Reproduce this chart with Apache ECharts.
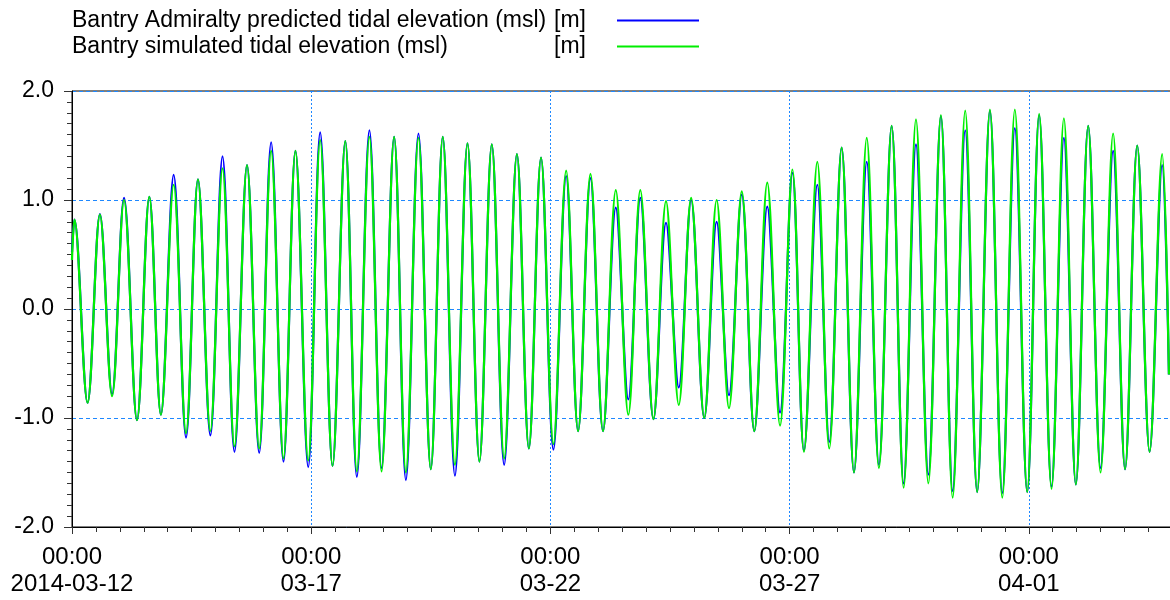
<!DOCTYPE html>
<html>
<head>
<meta charset="utf-8">
<script src="https://cdn.jsdelivr.net/npm/echarts@6/dist/echarts.min.js"></script>
<style>
  html, body { margin: 0; padding: 0; background: #fff; }
  #chart { width: 1170px; height: 600px; }
</style>
</head>
<body>
<div id="chart"></div>
<script>
// Bantry tidal elevation, 2014-03-12 .. 2014-04-03
// Times are hours after 2014-03-12 00:00; values are high / low waters (m, msl).
const startDate = Date.UTC(2014, 2, 12, 0, 0);

const extremeHours = [0, 1.2, 7.8, 14.0, 20.1, 26.1, 32.6, 38.8, 44.6, 51.0, 57.2, 63.2, 69.4, 75.5, 81.5, 87.8,
  93.9, 99.9, 106.1, 112.1, 118.5, 124.5, 130.7, 137.1, 142.9, 149.2, 155.3, 161.6, 167.5, 173.8, 180.0,
  186.0, 192.1, 198.4, 204.4, 210.6, 216.8, 223.2, 229.2, 235.3, 241.5, 247.9, 253.9, 260.1, 266.4,
  272.8, 279.1, 285.1, 291.7, 298.0, 304.4, 310.6, 317.2, 323.4, 329.6, 336.0, 342.3, 348.8, 355.2,
  361.4, 367.2, 373.9, 379.9, 386.1, 392.3, 398.7, 404.8, 411.2, 417.2, 423.4, 429.6, 435.9, 441.8,
  448.1, 454.1, 460.5, 466.7, 473.0, 479.2, 485.2, 491.4, 497.6, 503.6, 509.8, 516.0, 522.3, 528.3,
  534.4, 540.6, 546.9, 550.3];

const predicted = [0.52, 0.82, -0.86, 0.87, -0.78, 1.02, -1.02, 1.03, -0.97, 1.23, -1.18, 1.19, -1.16, 1.40, -1.31,
  1.32, -1.32, 1.53, -1.40, 1.45, -1.45, 1.62, -1.44, 1.54, -1.54, 1.64, -1.46, 1.58, -1.57, 1.61, -1.47,
  1.58, -1.53, 1.52, -1.40, 1.51, -1.43, 1.42, -1.28, 1.39, -1.29, 1.22, -1.12, 1.20, -1.12, 0.93, -0.83,
  1.02, -1.01, 0.79, -0.72, 1.00, -1.00, 0.80, -0.79, 1.05, -1.12, 0.94, -0.95, 1.25, -1.30, 1.14, -1.22,
  1.48, -1.50, 1.35, -1.43, 1.68, -1.60, 1.51, -1.52, 1.77, -1.67, 1.64, -1.68, 1.82, -1.69, 1.66, -1.68,
  1.78, -1.63, 1.57, -1.61, 1.68, -1.46, 1.45, -1.47, 1.50, -1.31, 1.32, -0.60];

const simulated = [0.45, 0.82, -0.86, 0.865, -0.80, 1.00, -1.02, 1.03, -0.97, 1.14, -1.14, 1.19, -1.12, 1.29, -1.26,
  1.32, -1.28, 1.45, -1.37, 1.45, -1.39, 1.55, -1.44, 1.54, -1.49, 1.58, -1.49, 1.58, -1.50, 1.57, -1.47,
  1.58, -1.43, 1.52, -1.40, 1.51, -1.37, 1.42, -1.28, 1.39, -1.24, 1.27, -1.12, 1.24, -1.12, 1.09, -0.97,
  1.09, -1.01, 0.99, -0.88, 1.02, -1.00, 1.00, -0.91, 1.08, -1.12, 1.16, -1.07, 1.28, -1.31, 1.35, -1.28,
  1.48, -1.50, 1.57, -1.46, 1.68, -1.64, 1.74, -1.60, 1.78, -1.73, 1.82, -1.68, 1.83, -1.73, 1.83, -1.68,
  1.79, -1.65, 1.75, -1.61, 1.68, -1.50, 1.61, -1.47, 1.50, -1.31, 1.42, -0.60];

const seriesNames = ['Bantry Admiralty predicted tidal elevation (msl)', 'Bantry simulated tidal elevation (msl)'];
const unitLabel = '[m]';
const yTicks = [-2, -1, 0, 1, 2];

const FONT = '"Liberation Sans", Arial, sans-serif';
const pad = n => String(n).padStart(2, '0');

function xLabel(h) {
  const d = new Date(startDate + h * 3600e3);
  const time = pad(d.getUTCHours()) + ':' + pad(d.getUTCMinutes());
  const md = pad(d.getUTCMonth() + 1) + '-' + pad(d.getUTCDate());
  return time + '\n' + (h === 0 ? d.getUTCFullYear() + '-' + md : md);
}

const toPairs = vals => extremeHours.map((h, i) => [h, vals[i]]);

const chart = echarts.init(document.getElementById('chart'), null, { renderer: 'canvas' });
chart.setOption({
  animation: false,
  backgroundColor: '#fff',
  legend: {
    left: 72, top: 9, padding: 0, orient: 'vertical', align: 'right',
    icon: 'rect', itemWidth: 82, itemHeight: 2, itemGap: 3,
    formatter: name => '{n|' + name + '}{u|' + unitLabel + '}',
    textStyle: {
      color: '#000', fontFamily: FONT, fontSize: 23,
      rich: {
        n: { width: 482, align: 'left', fontFamily: FONT, fontSize: 23, lineHeight: 27, color: '#000' },
        u: { width: 58, align: 'left', fontFamily: FONT, fontSize: 23, lineHeight: 27, color: '#000' }
      }
    }
  },
  grid: {
    left: 72, top: 91, bottom: 73, right: -98,
    outerBoundsMode: 'none',
    show: true, borderColor: '#000', borderWidth: 1, backgroundColor: 'transparent'
  },
  xAxis: {
    type: 'value', min: 0, max: 600, interval: 120,
    axisLine: { onZero: false, lineStyle: { color: '#000', width: 1 } },
    axisTick: { show: true, length: 7, lineStyle: { color: '#333' } },
    minorTick: { show: true, splitNumber: 10, length: 5, lineStyle: { color: '#333' } },
    splitLine: { show: true, lineStyle: { color: '#1e88ff', type: [2, 2], width: 1 } },
    axisLabel: {
      formatter: xLabel, color: '#000', fontFamily: FONT, fontSize: 24, lineHeight: 27,
      margin: 17, showMaxLabel: false
    }
  },
  yAxis: {
    type: 'value', min: yTicks[0], max: yTicks[yTicks.length - 1], interval: 1,
    axisLine: { show: true, onZero: false, lineStyle: { color: '#000', width: 1 } },
    axisTick: { show: true, length: 8, lineStyle: { color: '#333' } },
    minorTick: { show: true, splitNumber: 10, length: 5, lineStyle: { color: '#333' } },
    splitLine: { show: true, lineStyle: { color: '#1e88ff', type: [4, 3], width: 1 } },
    axisLabel: {
      formatter: v => v.toFixed(1), color: '#000', fontFamily: FONT, fontSize: 23, margin: 18
    }
  },
  series: [
    {
      name: seriesNames[0], type: 'line', data: toPairs(predicted),
      smooth: 0.36, showSymbol: false, color: '#0000ff',
      lineStyle: { color: '#0000ff', width: 2.2 }, z: 2
    },
    {
      name: seriesNames[1], type: 'line', data: toPairs(simulated),
      smooth: 0.36, showSymbol: false, color: '#00ee00',
      lineStyle: { color: '#00f000', width: 2.2 }, z: 3
    }
  ]
});
</script>
</body>
</html>
